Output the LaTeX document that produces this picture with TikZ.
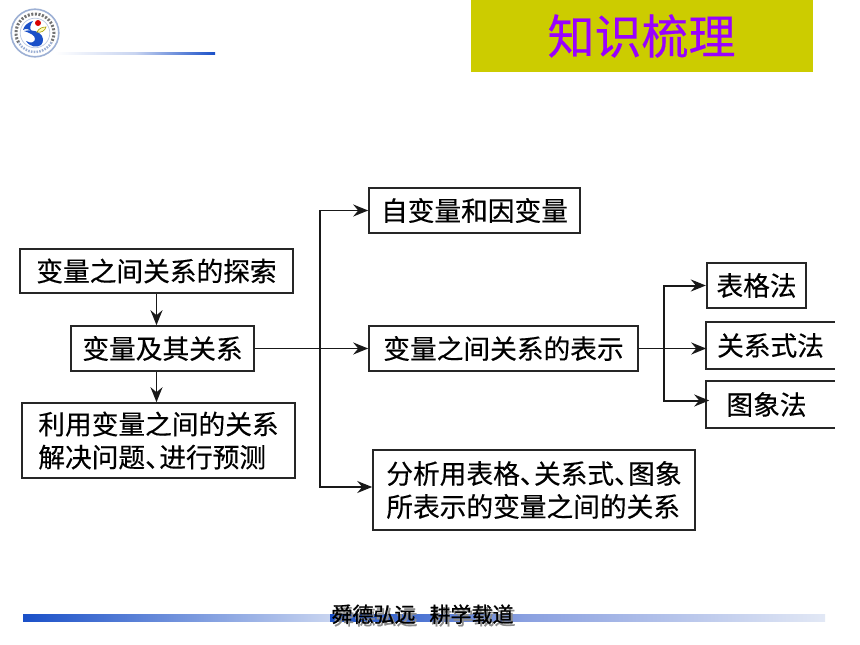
\documentclass[tikz,border=0pt]{standalone}
\usepackage{fontspec}
\usetikzlibrary{arrows.meta}
\newfontfamily\cjk[FakeBold=0.35]{Noto Sans CJK SC}
\newfontfamily\cjkheavy[FakeBold=0.9]{Noto Sans CJK SC}
\definecolor{banner}{HTML}{CCCC00}
\definecolor{titlec}{HTML}{9900FF}
\definecolor{deepblue}{HTML}{1A50C8}
\definecolor{paleblue}{HTML}{C8D4F0}
\definecolor{midblue}{HTML}{8AA0E0}
\definecolor{faintblue}{HTML}{E2E8F5}
\definecolor{ringblue}{HTML}{9DB0D4}
\tikzset{
  box/.style={draw=black!85,line width=1.6pt,inner sep=0pt,font=\cjk\fontsize{26.7}{33}\selectfont,align=left,fill=white},
  heavybox/.style={box,line width=2.3pt},
  openbox/.style={box,draw=none,fill=none},
  openedge/.style={draw=black!85,line width=1.7pt},
  link/.style={draw=black!90,line width=1.5pt},
  arrowlink/.style={link,-{Stealth[length=15pt,width=12pt,inset=5pt]}},
}
\begin{document}
\begin{tikzpicture}[x=1pt,y=-1pt]
\useasboundingbox (0,0) rectangle (860,645);
\fill[white] (0,0) rectangle (860,645);
% title banner
\fill[banner] (471,0) rectangle (813,72);
\node[inner sep=0pt,text=titlec,font=\cjk\fontsize{47}{50}\selectfont] (title) at (641.5,36) {知识梳理};
% header rule
\shade[left color=white,right color=paleblue] (55,52) rectangle (135,54.5);
\shade[left color=paleblue,right color=deepblue] (135,52) rectangle (215,54.5);
% logo
\fill[white] (35,33) circle (24.5);
\draw[ringblue,line width=1.6pt] (35,33) circle (23.8);
\draw[ringblue!70,line width=.7pt] (35,33) circle (14.8);
\draw[black!55,line width=3pt,dash pattern=on 2pt off 1.6pt] (35,33) ++(150:19) arc[start angle=150,end angle=390,radius=19];
\draw[ringblue,line width=2.4pt,dash pattern=on 1.6pt off 1.2pt] (35,33) ++(30:19) arc[start angle=30,end angle=150,radius=19];
\fill[red!85!black] (38,23) circle (3);
\fill[deepblue] (33,21) .. controls (29,22) and (24,25) .. (23,30) .. controls (26,28) and (29,29) .. (32,32) .. controls (29,28) and (30,25) .. (33,21) -- cycle;
\fill[deepblue] (24,31) .. controls (29,30) and (35,30) .. (39,33) .. controls (44,36) and (44,42) .. (41,45) .. controls (37,48) and (30,47) .. (26,41) .. controls (31,44) and (35,42) .. (35,39) .. controls (35,35) and (30,33) .. (24,31) -- cycle;
\draw[olive!80!yellow,fill=yellow!30,line width=.6pt] (37,32) .. controls (39,28) and (43,27) .. (46,27) .. controls (45,31) and (41,33) .. (37,32) -- cycle;
% diagram nodes
\node[heavybox,minimum width=273pt,minimum height=44pt] (A) at (156.5,271) {变量之间关系的探索};
\node[box,minimum width=183pt,minimum height=45pt] (B) at (162.5,348.5) {变量及其关系};
\node[box,minimum width=273pt,minimum height=75pt] (C) at (158.5,440.5) {利用变量之间的关系\\解决问题、\kern-.47em进行预测};
\node[box,minimum width=211pt,minimum height=45pt] (D) at (474.5,210.5) {自变量和因变量};
\node[box,minimum width=269pt,minimum height=45pt] (E) at (503.5,348.5) {变量之间关系的表示};
\node[box,minimum width=322pt,minimum height=80pt] (F) at (534,490) {分析用表格、\kern-.47em关系式、\kern-.47em图象\\所表示的变量之间的关系};
\node[heavybox,minimum width=99pt,minimum height=45pt] (G) at (756.5,285.5) {表格法};
\node[openbox,minimum width=127pt,minimum height=45pt] (H) at (770.5,345.5) {关系式法};
\node[openbox,minimum width=127pt,minimum height=45pt] (I) at (770.5,404.5) {图象法\kern8pt};
\draw[openedge] (H.north east) -- (H.north west) -- (H.south west) -- (H.south east);
\draw[openedge] (I.north east) -- (I.north west) -- (I.south west) -- (I.south east);
% connectors
\coordinate (j1) at (320,348.5);
\coordinate (j2) at (664,348.5);
\path[arrowlink] (A.south) -- (A.south |- B.north);
\path[arrowlink] (B.south -| A.south) -- (C.north -| A.south);
\path[arrowlink] (B) -- (E);
\path[arrowlink] (j1) |- (D.west);
\path[arrowlink] (j1) |- ([yshift=3pt]F.west);
\path[arrowlink] (E) -- (E -| H.west);
\path[arrowlink,line width=2pt] (j2) |- (G.west);
\path[arrowlink,line width=2pt] (j2) |- ([shift={(3,-4)}]I.west);
% footer
\shade[left color=deepblue,right color=paleblue] (23,614.5) rectangle (330,621);
\shade[left color=deepblue,right color=midblue] (330,614.5) rectangle (525,621);
\shade[left color=midblue,right color=faintblue] (525,614.5) rectangle (825,621);
\node[inner sep=0pt,font=\cjkheavy\fontsize{21}{24}\selectfont] (motto) at (422.5,615.5) {\rlap{\kern2pt\raisebox{-2.5pt}{\textcolor{black!45}{舜德弘远\kern14pt 耕学载道}}}舜德弘远\kern14pt 耕学载道};
\end{tikzpicture}
\end{document}
